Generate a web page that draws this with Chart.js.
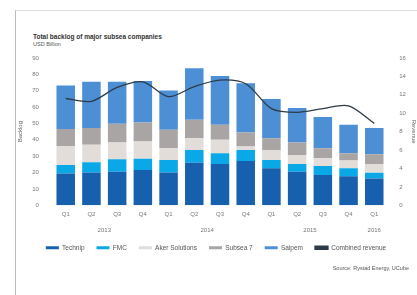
<!DOCTYPE html>
<html>
<head>
<meta charset="utf-8">
<script src="https://cdn.jsdelivr.net/npm/chart.js@4.4.0/dist/chart.umd.min.js"></script>
<style>
  body { margin: 0; background: #fff; font-family: "Liberation Sans", Arial, sans-serif; }
  #wrap { position: relative; width: 417px; height: 295px; overflow: hidden; }
  #frame { position: absolute; left: 15px; top: 10px; width: 420px; height: 300px;
           border-left: 1px solid #bbb; border-top: 1px solid #ddd; }
  #title { position: absolute; left: 33px; top: 33px; font-size: 6.5px; font-weight: bold; color: #333; }
  #sub { position: absolute; left: 33px; top: 41px; font-size: 5.5px; color: #555; }
  #source { position: absolute; right: 8px; top: 265px; font-size: 5.5px; color: #555; }
  canvas { position: absolute; left: 0; top: 0; }
</style>
</head>
<body>
<div id="wrap">
  <div id="frame"></div>
  <div id="title">Total backlog of major subsea companies</div>
  <div id="sub">USD Billion</div>
  <canvas id="chart" width="417" height="295"></canvas>
  <div id="source">Source: Rystad Energy, UCube</div>
</div>
<script>
const quarters = ["Q1","Q2","Q3","Q4","Q1","Q2","Q3","Q4","Q1","Q2","Q3","Q4","Q1"];
const years = ["2013", "2014", "2015", "2016"];
const yearPos = [1.5, 5.5, 9.5, 12];

const technip = [19.5, 20, 20.5, 21.5, 20, 26, 25.2, 27, 22.6, 20.5, 18.5, 17.8, 16.4];
const fmc = [5.1, 6.3, 7.6, 7, 7.7, 7.8, 6.6, 6.8, 5.1, 4.7, 5.5, 4.8, 3.5];
const aker = [11.7, 10.7, 10.3, 10.5, 7.2, 7.2, 8.2, 2.1, 6.1, 5.6, 4.7, 4.7, 5.3];
const subsea7 = [10.3, 10.2, 11.4, 11.6, 11.3, 11.3, 9.2, 8.6, 7.2, 7.6, 6.2, 4.5, 6];
const saipem = [26.6, 28.3, 25.7, 25.4, 24, 31.4, 29.8, 30, 24, 21.1, 19.1, 17.4, 16];
const revenue = [11.6, 11.3, 12.8, 13.4, 11.8, 12.9, 13.6, 13.2, 10.5, 10.1, 10.5, 10.8, 8.9];

const yearLabels = {
    id: "yearLabels",
    afterDraw(chart) {
        const ctx = chart.ctx;
        const x = chart.scales.x;
        ctx.save();
        ctx.font = "6px 'Liberation Sans', Arial, sans-serif";
        ctx.fillStyle = "#777";
        ctx.textAlign = "center";
        ctx.textBaseline = "middle";
        years.forEach((y, i) => {
            const px = x.getPixelForValue(Math.floor(yearPos[i]));
            const px2 = x.getPixelForValue(Math.ceil(yearPos[i]));
            ctx.fillText(y, (px + px2) / 2, x.bottom - 2);
        });
        ctx.restore();
    }
};

function barSet(label, data, color) {
    return {
        type: "bar",
        label: label,
        data: data,
        backgroundColor: color,
        borderWidth: 0,
        yAxisID: "y",
        stack: "s",
        order: 1,
        barPercentage: 0.72,
        categoryPercentage: 1
    };
}

new Chart(document.getElementById("chart"), {
    data: {
        labels: quarters,
        datasets: [
            barSet("Technip", technip, "#1660ae"),
            barSet("FMC", fmc, "#0aa8e6"),
            barSet("Aker Solutions", aker, "#e2ddd9"),
            barSet("Subsea 7", subsea7, "#a9a5a5"),
            barSet("Saipem", saipem, "#4d8fd5"),
            {
                type: "line",
                label: "Combined revenue",
                data: revenue,
                borderColor: "#2e3b48",
                backgroundColor: "#2e3b48",
                borderWidth: 1.3,
                pointRadius: 0,
                tension: 0.3,
                yAxisID: "y1",
                order: 0
            }
        ]
    },
    options: {
        responsive: false,
        animation: false,
        layout: { padding: { top: 58, left: 15, right: 0, bottom: 34 } },
        plugins: {
            tooltip: { enabled: false },
            legend: {
                position: "bottom",
                labels: {
                    boxWidth: 13,
                    boxHeight: 3,
                    padding: 12,
                    color: "#555",
                    font: { size: 6.5 },
                    sort: (a, b) => a.datasetIndex - b.datasetIndex
                }
            }
        },
        scales: {
            x: {
                grid: { display: false },
                border: { display: false },
                ticks: { color: "#777", font: { size: 6 }, padding: -3, maxRotation: 0 },
                afterFit: s => { s.height += 18; }
            },
            y: {
                position: "left",
                min: 0, max: 90,
                grid: { display: false },
                border: { display: false },
                ticks: { stepSize: 10, color: "#777", font: { size: 6 }, padding: 6 },
                title: { display: true, text: "Backlog", color: "#666", font: { size: 6 }, padding: 2 }
            },
            y1: {
                position: "right",
                min: 0, max: 16,
                grid: { display: false },
                border: { display: false },
                ticks: { stepSize: 2, color: "#777", font: { size: 6 }, padding: 4 },
                title: { display: true, text: "Revenue", color: "#666", font: { size: 6 }, padding: 0 }
            }
        }
    },
    plugins: [yearLabels]
});
</script>
</body>
</html>
